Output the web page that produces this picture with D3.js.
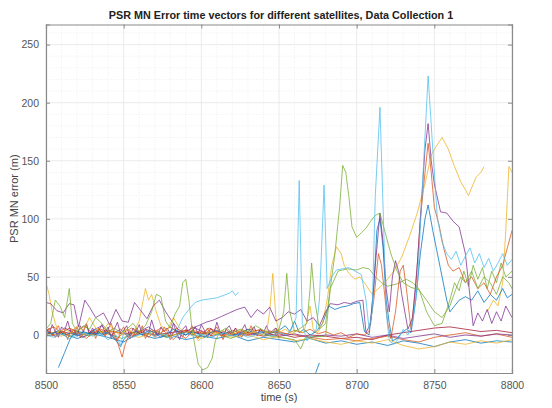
<!DOCTYPE html>
<html><head><meta charset="utf-8">
<script src="https://cdn.jsdelivr.net/npm/d3@7"></script>
<style>body{margin:0;background:#fff}text{font-family:"Liberation Sans",Arial,sans-serif}</style>
</head><body><svg id="c" width="552" height="408"></svg>
<script>
// ---- data (time s, error m) ----
const xTicks = [8500, 8550, 8600, 8650, 8700, 8750, 8800];
const yTicks = [0, 50, 100, 150, 200, 250];
const colors = ["#0072BD","#D95319","#EDB120","#7E2F8E","#77AC30","#4DBEEE","#A2142F"];

const satBlue = [[8500,3],[8504,1],[8508,4],[8512,0],[8516,2],[8520,-1],[8524,3],[8528,1],[8532,5],[8536,0],[8540,2],[8544,-3],[8548,-10],[8550,-4],[8554,1],[8558,3],[8562,0],[8566,4],[8570,2],[8574,-2],[8578,1],[8582,5],[8586,2],[8590,0],[8594,3],[8598,1],[8602,-2],[8606,2],[8610,4],[8614,1],[8618,3],[8622,0],[8626,2],[8630,5],[8634,1],[8638,3],[8642,0],[8646,2],[8650,4],[8654,8],[8657,3],[8660,12],[8663,2],[8666,5],[8670,0],[8674,3],[8678,10],[8682,25],[8686,22],[8690,24],[8694,25],[8698,27],[8702,28],[8705,3],[8708,0],[8711,40],[8713,90],[8715,100],[8717,75],[8719,30],[8721,10],[8723,-5],[8726,-3],[8729,2],[8732,5],[8735,2],[8738,30],[8741,70],[8744,100],[8746,112],[8749,90],[8752,70],[8755,50],[8758,30],[8760,20],[8763,25],[8766,30],[8770,33],[8774,30],[8778,38],[8782,28],[8786,35],[8790,30],[8794,40],[8797,32],[8800,35]];
const satOrange = [[8500,5],[8503,2],[8506,-2],[8510,3],[8514,0],[8518,4],[8522,1],[8526,-3],[8530,2],[8534,5],[8538,0],[8542,3],[8546,-6],[8549,-19],[8551,-8],[8554,2],[8558,0],[8562,4],[8566,-2],[8570,3],[8574,6],[8578,1],[8582,-4],[8586,2],[8590,4],[8594,0],[8598,3],[8602,1],[8606,5],[8610,2],[8614,-1],[8618,3],[8622,1],[8626,4],[8630,0],[8634,3],[8638,5],[8642,2],[8646,0],[8650,3],[8655,1],[8660,4],[8665,2],[8670,5],[8675,1],[8680,3],[8685,0],[8690,2],[8695,-2],[8700,1],[8705,0],[8708,3],[8711,30],[8714,70],[8716,60],[8718,35],[8720,10],[8722,-3],[8725,20],[8728,55],[8730,60],[8732,40],[8735,5],[8738,40],[8741,100],[8744,140],[8746,165],[8748,140],[8750,110],[8753,95],[8756,75],[8759,60],[8762,55],[8766,58],[8770,45],[8774,50],[8778,40],[8782,45],[8786,35],[8790,50],[8794,60],[8797,75],[8800,90]];
const satYellow = [[8500,45],[8502,35],[8504,20],[8506,10],[8508,3],[8512,5],[8516,2],[8520,8],[8524,4],[8528,15],[8532,6],[8536,2],[8540,10],[8544,3],[8548,0],[8552,5],[8556,2],[8560,12],[8564,40],[8566,30],[8568,35],[8571,20],[8574,8],[8578,4],[8582,15],[8586,6],[8590,2],[8594,4],[8598,-5],[8602,0],[8606,3],[8610,1],[8614,4],[8618,0],[8622,2],[8626,5],[8630,1],[8634,3],[8638,0],[8642,2],[8644,20],[8646,53],[8648,15],[8650,2],[8654,5],[8658,1],[8662,4],[8666,2],[8670,25],[8672,5],[8675,2],[8678,10],[8681,30],[8684,60],[8687,76],[8690,70],[8692,60],[8695,53],[8699,48],[8702,50],[8705,45],[8710,35],[8718,45],[8724,55],[8729,67],[8734,85],[8739,105],[8744,130],[8748,155],[8751,162],[8755,170],[8759,160],[8763,145],[8767,132],[8770,125],[8772,120],[8775,130],[8777,136],[8780,140],[8782,145]];
const satYellowB = [[8784,20],[8788,30],[8791,25],[8794,45],[8796,90],[8798,145],[8800,140]];
const satPurple = [[8500,28],[8503,27],[8507,21],[8511,19],[8515,27],[8518,26],[8521,7],[8525,30],[8528,24],[8532,15],[8537,19],[8541,9],[8545,22],[8549,12],[8553,11],[8557,28],[8561,21],[8565,14],[8569,25],[8573,30],[8577,20],[8581,12],[8585,5],[8589,2],[8594,6],[8598,8],[8603,11],[8608,13],[8613,16],[8618,19],[8623,22],[8628,24],[8632,15],[8636,22],[8640,18],[8644,24],[8648,12],[8652,15],[8656,20],[8660,18],[8664,22],[8668,12],[8672,15],[8676,8],[8680,20],[8683,27],[8688,26],[8692,28],[8696,27],[8700,29],[8704,30],[8706,2],[8709,10],[8712,60],[8715,105],[8717,80],[8719,40],[8721,20],[8723,50],[8725,64],[8727,55],[8729,35],[8731,20],[8733,5],[8736,15],[8739,60],[8742,120],[8744,160],[8746,182],[8748,150],[8750,130],[8754,106],[8758,105],[8762,98],[8766,93],[8770,70],[8772,45],[8775,8],[8778,19],[8781,12],[8784,22],[8787,10],[8790,20],[8793,12],[8796,25],[8800,15]];
const satGreen = [[8500,5],[8503,10],[8506,30],[8509,25],[8512,15],[8515,40],[8517,10],[8520,3],[8524,8],[8528,5],[8532,15],[8536,10],[8540,3],[8544,6],[8548,2],[8552,5],[8556,10],[8560,3],[8564,8],[8568,20],[8571,35],[8574,33],[8577,12],[8580,6],[8583,18],[8586,25],[8588,45],[8590,48],[8592,30],[8594,5],[8596,-10],[8598,-25],[8601,-30],[8604,-28],[8607,-20],[8609,-5],[8612,3],[8616,6],[8620,2],[8625,5],[8630,3],[8635,8],[8640,4],[8645,2],[8650,5],[8653,20],[8655,53],[8657,20],[8660,3],[8664,6],[8668,10],[8670,40],[8671,62],[8673,30],[8676,5],[8680,10],[8683,40],[8686,70],[8689,110],[8691,146],[8693,140],[8695,119],[8697,93],[8700,84],[8703,88],[8706,92],[8709,98],[8712,103],[8715,105],[8717,95],[8719,85],[8722,70],[8726,55],[8730,45],[8735,41],[8740,39],[8745,30],[8750,20],[8755,15],[8760,25],[8764,40],[8767,50],[8770,45],[8774,55],[8778,40],[8782,50],[8786,45],[8790,35],[8794,50],[8798,45],[8800,40]];
const satLightBlue = [[8500,0],[8505,-2],[8510,1],[8515,-3],[8520,0],[8525,2],[8530,-1],[8535,1],[8540,-4],[8545,0],[8548,-9],[8550,2],[8555,-2],[8560,0],[8565,3],[8570,-1],[8575,1],[8580,-3],[8585,0],[8590,2],[8595,-1],[8600,1],[8605,-2],[8610,0],[8615,2],[8620,-1],[8625,1],[8630,-2],[8635,0],[8640,3],[8645,-1],[8650,2],[8655,0],[8658,5],[8661,15],[8663,133],[8665,10],[8668,-5],[8671,0],[8674,5],[8676,30],[8677,60],[8679,129],[8681,40],[8684,50],[8687,56],[8691,57],[8695,58],[8699,55],[8703,52],[8706,30],[8708,5],[8710,20],[8712,120],[8715,196],[8717,110],[8719,20],[8721,-5],[8724,-8],[8727,-3],[8730,5],[8733,0],[8736,10],[8739,40],[8742,120],[8746,223],[8749,160],[8752,100],[8755,80],[8758,70],[8761,65],[8764,72],[8767,60],[8770,68],[8773,75],[8776,62],[8779,70],[8782,58],[8785,66],[8788,55],[8791,62],[8794,70],[8797,60],[8800,65]];
const satLightBlueB = [[8584,3],[8588,15],[8592,22],[8596,28],[8600,30],[8605,31],[8610,32],[8614,34],[8618,36],[8620,38],[8622,34],[8624,37]];
const satDarkRed = [[8500,1],[8510,3],[8520,0],[8530,2],[8540,4],[8550,1],[8560,3],[8570,0],[8580,2],[8590,4],[8600,1],[8610,3],[8620,0],[8630,2],[8640,-1],[8650,1],[8660,-2],[8670,0],[8680,-1],[8690,-3],[8700,-2],[8710,-4],[8720,0],[8730,2],[8740,4],[8750,6],[8760,7],[8770,5],[8780,3],[8790,4],[8800,2]];
const satBlue2 = [[8500,-1],[8510,2],[8520,-3],[8530,1],[8540,-2],[8550,-6],[8555,-2],[8560,1],[8570,-3],[8580,0],[8590,-4],[8600,-1],[8610,-3],[8620,0],[8630,-5],[8640,-2],[8650,-4],[8660,-6],[8670,-3],[8680,-7],[8690,-5],[8700,-8],[8710,-6],[8720,-9],[8730,-5],[8740,-7],[8750,-10],[8760,-6],[8770,-4],[8780,-7],[8790,-5],[8800,-6]];
const satOrange2 = [[8500,4],[8505,7],[8510,2],[8515,6],[8520,3],[8525,8],[8530,1],[8535,5],[8540,3],[8545,-4],[8550,2],[8555,6],[8560,1],[8565,5],[8570,-2],[8575,3],[8580,7],[8585,2],[8590,-3],[8595,4],[8600,1],[8605,6],[8610,3],[8615,-1],[8620,4],[8625,2],[8630,5],[8640,3],[8650,2],[8660,0],[8670,-2],[8680,-4],[8690,-3],[8700,-5],[8710,-3],[8720,-1],[8730,-4],[8740,-6],[8750,-2],[8760,0],[8770,2],[8780,-1],[8790,1],[8800,-2]];
const satYellow2 = [[8500,2],[8510,-1],[8520,3],[8530,0],[8540,4],[8550,1],[8560,-2],[8570,2],[8580,-1],[8590,3],[8600,-3],[8610,1],[8620,-2],[8630,0],[8640,-4],[8650,-1],[8660,-5],[8670,-3],[8680,-6],[8690,-8],[8700,-5],[8710,-7],[8720,-4],[8730,-9],[8740,-12],[8750,-10],[8760,-6],[8770,-8],[8780,-5],[8790,-7],[8800,-4]];
const satPurple2 = [[8500,5],[8506,-1],[8512,6],[8518,2],[8524,-2],[8530,4],[8536,8],[8542,0],[8548,5],[8554,-3],[8560,3],[8566,7],[8572,1],[8578,-2],[8584,4],[8590,0],[8596,6],[8602,2],[8608,-1],[8614,3],[8620,1],[8630,0],[8640,2],[8650,-1],[8660,1],[8670,-2],[8680,0],[8690,-1],[8700,1],[8710,-2],[8720,0],[8730,-3],[8740,-1],[8750,1],[8760,-2],[8770,0],[8780,-1],[8790,1],[8800,0]];
const satGreen2 = [[8500,0],[8507,3],[8514,-2],[8521,2],[8528,-1],[8535,3],[8542,0],[8549,-3],[8556,2],[8563,0],[8570,4],[8577,-2],[8584,1],[8591,3],[8598,-1],[8605,2],[8612,0],[8619,-3],[8626,1],[8633,3],[8640,0],[8650,-2],[8660,-4],[8664,-12],[8667,-2],[8680,-1],[8683,40],[8688,55],[8694,57],[8700,56],[8704,58],[8708,57],[8712,50],[8716,45],[8720,42],[8726,44],[8732,48],[8736,45],[8740,40],[8745,20],[8750,8],[8755,10],[8760,30],[8763,45],[8766,38],[8769,55],[8772,42],[8775,60],[8778,48],[8781,58],[8784,40],[8787,55],[8790,45],[8793,62],[8796,50],[8800,55]];
const satBlue3 = [[8508,-28],[8512,-15],[8516,-2],[8520,3],[8530,1],[8540,2]];
const satBlue4 = [[8673.5,-33],[8676,-24]];
// dense jitter near zero, 8500..8650 every 2 s
const jitterTimes = d3.range(8500, 8652, 2);
const jitterRed = [2,6,-1,4,8,0,3,-4,5,1,7,-2,3,9,0,4,-3,6,2,-1,5,10,1,-5,3,7,0,4,-2,6,1,8,-3,2,5,-1,4,0,7,3,-4,2,6,1,-2,5,3,8,0,-3,4,2,6,-1,3,7,1,-4,5,2,0,6,3,-2,4,1,8,2,-1,5,3,0,4,2,6,-3];
const jitterPurple = [6,1,9,3,-2,7,4,12,2,5,-1,8,3,10,1,6,0,4,9,2,7,-3,5,11,1,4,8,-2,6,3,9,0,5,2,13,4,-1,7,3,6,1,10,2,-4,5,8,0,3,7,1,9,4,-2,6,2,11,3,0,5,8,2,6,-1,4,9,1,3,7,0,5,2,8,1,4,6,2];

const seriesList = [
  [satDarkRed,6],[satBlue2,0],[satOrange2,1],[satYellow2,2],[satPurple2,3],[satGreen2,4],
  [jitterTimes.map((t,i)=>[t,jitterRed[i]]),1],[jitterTimes.map((t,i)=>[t,jitterPurple[i]]),3],
  [satBlue3,0],[satBlue4,0],[satLightBlueB,5],[satYellowB,2],
  [satBlue,0],[satOrange,1],[satYellow,2],[satPurple,3],[satGreen,4],[satLightBlue,5]
];

// ---- drawing ----
const svg = d3.select("#c");
const m = {l:46, r:512, t:24.5, b:373};
const x = d3.scaleLinear().domain([8500,8800]).range([m.l,m.r]);
const y = d3.scaleLinear().domain([-32.7,267.3]).range([m.b,m.t]);

svg.append("rect").attr("x",m.l).attr("y",m.t).attr("width",m.r-m.l).attr("height",m.b-m.t).attr("fill","#fff");

const g = svg.append("g");
g.selectAll(".mx").data(d3.range(8510,8800,10).filter(v=>v%50)).enter().append("line")
  .attr("x1",d=>x(d)).attr("x2",d=>x(d)).attr("y1",m.t).attr("y2",m.b)
  .attr("stroke","#e6e6e6").attr("stroke-width",0.6).attr("stroke-dasharray","1,1.5");
g.selectAll(".my").data(d3.range(-30,267,10).filter(v=>v%50)).enter().append("line")
  .attr("y1",d=>y(d)).attr("y2",d=>y(d)).attr("x1",m.l).attr("x2",m.r)
  .attr("stroke","#e6e6e6").attr("stroke-width",0.6).attr("stroke-dasharray","1,1.5");
g.selectAll(".gx").data(xTicks).enter().append("line")
  .attr("x1",d=>x(d)).attr("x2",d=>x(d)).attr("y1",m.t).attr("y2",m.b)
  .attr("stroke","#e2e2e2").attr("stroke-width",0.7);
g.selectAll(".gy").data(yTicks).enter().append("line")
  .attr("y1",d=>y(d)).attr("y2",d=>y(d)).attr("x1",m.l).attr("x2",m.r)
  .attr("stroke","#e2e2e2").attr("stroke-width",0.7);

svg.append("clipPath").attr("id","clip").append("rect")
  .attr("x",m.l).attr("y",m.t).attr("width",m.r-m.l).attr("height",m.b-m.t);

const line = d3.line().x(d=>x(d[0])).y(d=>y(d[1]));
const lg = svg.append("g").attr("clip-path","url(#clip)");
seriesList.forEach(([data,ci])=>{
  lg.append("path").datum(data).attr("d",line)
    .attr("fill","none").attr("stroke",colors[ci]).attr("stroke-width",0.9)
    .attr("stroke-opacity",0.85).attr("stroke-linejoin","round");
});

const axColor = "#8a8a8a";
const xb = svg.append("g").attr("transform",`translate(0,${m.b})`)
  .call(d3.axisBottom(x).tickValues(xTicks).tickSize(-4).tickPadding(9).tickFormat(d3.format("d")));
const xt = svg.append("g").attr("transform",`translate(0,${m.t})`)
  .call(d3.axisTop(x).tickValues(xTicks).tickSize(-4).tickFormat(""));
const yl = svg.append("g").attr("transform",`translate(${m.l},0)`)
  .call(d3.axisLeft(y).tickValues(yTicks).tickSize(-4).tickPadding(7));
const yr = svg.append("g").attr("transform",`translate(${m.r},0)`)
  .call(d3.axisRight(y).tickValues(yTicks).tickSize(-4).tickFormat(""));
[xb,xt,yl,yr].forEach(a=>{
  a.select(".domain").attr("stroke",axColor).attr("stroke-width",1.2);
  a.selectAll(".tick line").attr("stroke",axColor);
  a.selectAll("text").attr("fill","#555").style("font-size","10.5px")
    .style("font-family","'Liberation Sans',Arial,sans-serif");
});

svg.append("text").attr("x",(m.l+m.r)/2+2).attr("y",19).attr("text-anchor","middle")
  .style("font-size","10.8px").style("font-weight","bold").attr("fill","#222")
  .text("PSR MN Error time vectors for different satellites, Data Collection 1");
svg.append("text").attr("x",(m.l+m.r)/2).attr("y",401).attr("text-anchor","middle")
  .style("font-size","11px").attr("fill","#444").text("time (s)");
svg.append("text").attr("transform",`translate(18,${(m.t+m.b)/2}) rotate(-90)`).attr("text-anchor","middle")
  .style("font-size","11px").attr("fill","#444").text("PSR MN error (m)");
</script></body></html>
